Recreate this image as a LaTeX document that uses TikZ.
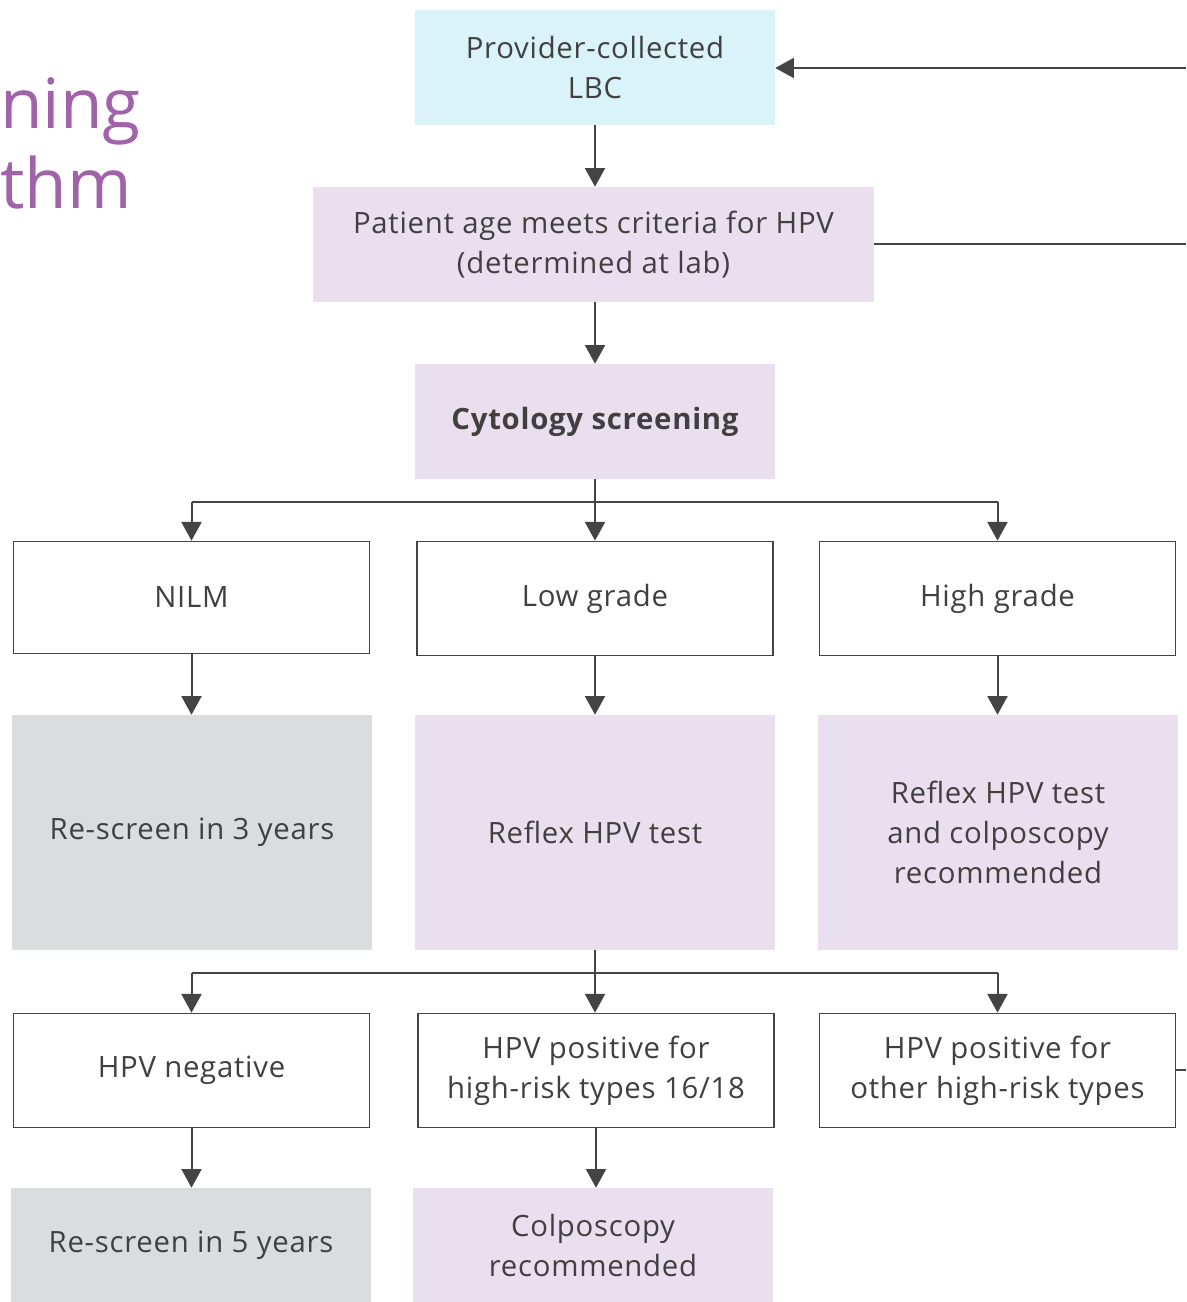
\documentclass[tikz,border=0pt]{standalone}
\usepackage{fontspec}
\setmainfont{Open Sans}[LetterSpace=2.5]
\newfontfamily\titlefont{Open Sans}
\usetikzlibrary{arrows.meta}
\definecolor{txt}{HTML}{404040}
\definecolor{ln}{HTML}{444444}
\definecolor{lav}{HTML}{EADFEE}
\definecolor{cyanbox}{HTML}{D9F3F8}
\definecolor{graybox}{HTML}{DBDCDE}
\definecolor{ttl}{HTML}{A062A8}
\tikzset{
  base/.style={inner sep=2pt, align=center, text=txt, font=\fontsize{22}{30}\selectfont},
  lavbox/.style={base, fill=lav},
  cybox/.style={base, fill=cyanbox},
  grbox/.style={base, fill=graybox},
  outbox/.style={base, draw=ln, line width=1.3pt, fill=white},
  conn/.style={draw=ln, line width=1.5pt},
  arr/.style={conn, -{Triangle[width=15pt,length=14pt]}},
  ttlstyle/.style={anchor=base west, inner sep=0pt, text=ttl, font=\titlefont\fontsize{52}{60}\selectfont},
}
\begin{document}
\begin{tikzpicture}[x=0.75pt, y=-0.75pt]
\useasboundingbox (0,0) rectangle (1186,1302);
% title fragments
\node[ttlstyle] (t1) at (0,129) {ning};
\node[ttlstyle] (t2) at (0,209) {thm};
% boxes
\node[cybox, minimum width=270pt, minimum height=86.25pt] (lbc) at (595,67.5) {Provider-collected\\LBC};
\node[lavbox, minimum width=420.75pt, minimum height=86.25pt] (age) at (593.5,244.5) {Patient age meets criteria for HPV\\(determined at lab)};
\node[lavbox, minimum width=270pt, minimum height=86.25pt, font=\fontsize{22}{30}\selectfont\bfseries] (cyt) at (595,421.5) {Cytology screening};
\node[outbox, minimum width=267pt, minimum height=84pt] (nilm) at (191.5,597.5) {NILM};
\node[outbox, minimum width=267pt, minimum height=85.5pt] (low) at (595,598.5) {Low grade};
\node[outbox, minimum width=267pt, minimum height=85.5pt] (high) at (997.5,598.5) {High grade};
\node[grbox, minimum width=270pt, minimum height=176.25pt] (rs3) at (192,832.5) {Re-screen in 3 years};
\node[lavbox, minimum width=270pt, minimum height=176.25pt] (reflex) at (595,832.5) {Reflex HPV test};
\node[lavbox, minimum width=270pt, minimum height=176.25pt] (rcol) at (998,832.5) {Reflex HPV test\\and colposcopy\\recommended};
\node[outbox, minimum width=267pt, minimum height=85.5pt] (neg) at (191.5,1070.5) {HPV negative};
\node[outbox, minimum width=267pt, minimum height=85.5pt] (pos) at (596,1070.5) {HPV positive for\\high-risk types 16/18};
\node[outbox, minimum width=267pt, minimum height=85.5pt] (oth) at (997.5,1070.5) {HPV positive for\\other high-risk types};
\node[grbox, minimum width=270pt, minimum height=85.5pt] (rs5) at (191,1245) {Re-screen in 5 years};
\node[lavbox, minimum width=270pt, minimum height=85.5pt] (colp) at (593,1245) {Colposcopy\\recommended};
% edge coordinates
\coordinate (e1) at (1186,68);
\coordinate (e2) at (1186,244);
\coordinate (e3) at (1186,1070);
\coordinate (b1) at (595,502);
\coordinate (b2) at (595,973);
% connectors
\draw[arr] (lbc.south) -- (age.north -| lbc.south);
\draw[arr] (age.south -| cyt.north) -- (cyt.north);
\draw[arr] (cyt.south) -- (low.north -| cyt.south);
\draw[conn] (b1 -| nilm.north) -- (b1 -| high.north);
\draw[arr] (b1 -| nilm.north) -- (nilm.north);
\draw[arr] (b1 -| high.north) -- (high.north);
\draw[arr] (nilm.south) -- (rs3.north -| nilm.south);
\draw[arr] (low.south) -- (reflex.north -| low.south);
\draw[arr] (high.south) -- (rcol.north -| high.south);
\draw[arr] (reflex.south) -- (pos.north -| reflex.south);
\draw[conn] (b2 -| neg.north) -- (b2 -| oth.north);
\draw[arr] (b2 -| neg.north) -- (neg.north);
\draw[arr] (b2 -| oth.north) -- (oth.north);
\draw[arr] (neg.south) -- (rs5.north -| neg.south);
\draw[arr] (pos.south) -- (colp.north -| pos.south);
\draw[arr] (e1) -- (lbc.east |- e1);
\draw[conn] (age.east |- e2) -- (e2);
\draw[conn] (oth.east |- e3) -- (e3);
\end{tikzpicture}
\end{document}
